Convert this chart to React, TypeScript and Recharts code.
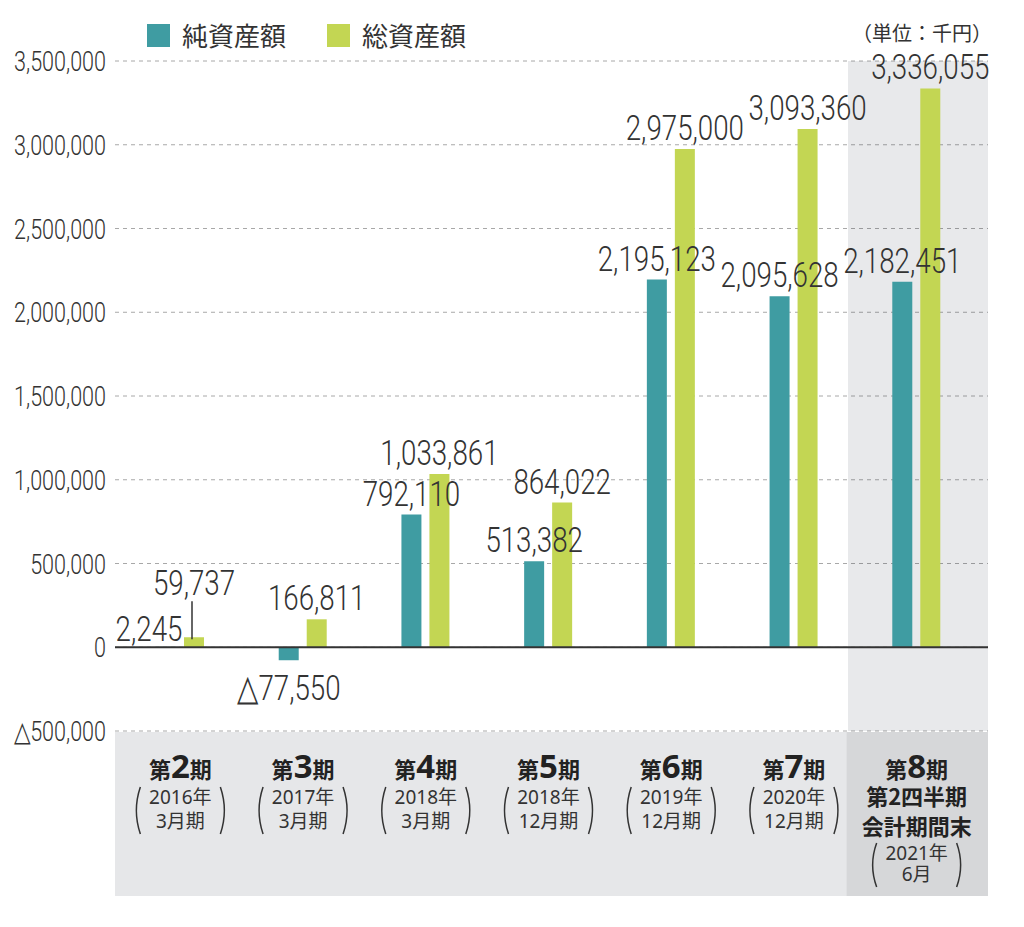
import React from 'react'
import { BarChart, Bar, XAxis, YAxis, CartesianGrid, ReferenceLine, ReferenceArea, LabelList } from 'recharts'

// 期ごとの純資産額・総資産額（単位：千円）
const categories = ['第2期', '第3期', '第4期', '第5期', '第6期', '第7期', '第8期']
const periodNumbers = ['2', '3', '4', '5', '6', '7', '8']
const yearLabels = ['2016年', '2017年', '2018年', '2018年', '2019年', '2020年', '2021年']
const monthLabels = ['3月期', '3月期', '3月期', '12月期', '12月期', '12月期', '6月']
const lastExtraLines = ['第2四半期', '会計期間末']
const netAssets = [2245, -77550, 792110, 513382, 2195123, 2095628, 2182451]
const totalAssets = [59737, 166811, 1033861, 864022, 2975000, 3093360, 3336055]
const yTicks = [-500000, 0, 500000, 1000000, 1500000, 2000000, 2500000, 3000000, 3500000]

const TEAL = '#3f9ca2'
const GREEN = '#c3d653'
const TEXT = '#333'
const NUM_FONT = 'Roboto, sans-serif'
const JP_FONT = '"Noto Sans CJK JP", sans-serif'
const SUB_FONT = '"Noto Sans", "Noto Sans CJK JP", sans-serif'

const W = 1000
const H = 912
const PLOT_LEFT = 107
const PLOT_RIGHT = 980
const STRIP_H = 164

const data = categories.map((c, i) => ({ name: c, net: netAssets[i], total: totalAssets[i] }))

const fmt = (v: number) => (v < 0 ? '△' : '') + Math.abs(v).toLocaleString('en-US')

const NumText = (props: any) => {
  const { x, y, text, size, sx, anchor } = props
  return <text
    transform={`translate(${x},${y}) scale(${sx},1)`}
    textAnchor={anchor || 'middle'}
    fontFamily={NUM_FONT}
    fontWeight={300}
    fontSize={size}
    fill={TEXT}
  >{text}</text>
}

const barLabel = (series: string) => (p: any) => {
  const { x, y, width, height, value, index } = p
  const top = Math.min(y, y + height)
  const bottom = Math.max(y, y + height)
  const cx = x + width / 2
  if (value < 0) {
    return <NumText x={cx} y={bottom + 40} text={fmt(value)} size={36} sx={0.77} />
  }
  if (index === 0 && series === 'net') {
    return <NumText x={cx - 17} y={top - 6} text={fmt(value)} size={36} sx={0.77} />
  }
  if (index === 0 && series === 'total') {
    return <g>
      <line x1={cx - 2} x2={cx - 2} y1={top - 36} y2={top + 2} stroke={TEXT} strokeWidth={1.5} />
      <NumText x={cx} y={top - 42} text={fmt(value)} size={36} sx={0.77} />
    </g>
  }
  return <NumText x={cx} y={top - 9} text={fmt(value)} size={36} sx={0.77} />
}

const YTick = (p: any) => {
  const { x, y, payload } = p
  return <NumText x={x} y={y + 10} text={fmt(payload.value)} size={28} sx={0.77} anchor="end" />
}

const Paren = (p: any) => {
  const { cx, top, bottom, half } = p
  const mid = (top + bottom) / 2
  return <g fill="none" stroke={TEXT} strokeWidth={1.5}>
    <path d={`M ${cx - half + 5} ${top} Q ${cx - half - 3} ${mid} ${cx - half + 5} ${bottom}`} />
    <path d={`M ${cx + half - 5} ${top} Q ${cx + half + 3} ${mid} ${cx + half - 5} ${bottom}`} />
  </g>
}

const CategoryTick = (p: any) => {
  const { x, y, payload } = p
  const i = categories.indexOf(payload.value)
  const last = i === categories.length - 1
  const sub = last ? 129 : 73
  const gap = last ? 21 : 24
  return <g>
    {i === 0 && <rect x={PLOT_LEFT} y={y + 1} width={PLOT_RIGHT - PLOT_LEFT} height={STRIP_H} fill="#e6e7e9" />}
    {last && <rect x={x - 70} y={y + 1} width={PLOT_RIGHT - (x - 70)} height={STRIP_H} fill="#d6d7d9" />}
    <text x={x} y={y + 47} textAnchor="middle" fill="#222" fontWeight={700}>
      <tspan fontFamily={JP_FONT} fontSize={22}>第</tspan>
      <tspan fontFamily='"Noto Sans", sans-serif' fontSize={33}>{periodNumbers[i]}</tspan>
      <tspan fontFamily={JP_FONT} fontSize={22}>期</tspan>
    </text>
    {last && lastExtraLines.map((t, k) =>
      <text key={t} x={x} y={y + 74 + k * 30} textAnchor="middle" fill="#222" fontWeight={700} fontFamily={JP_FONT} fontSize={22}>{t}</text>
    )}
    <text x={x} y={y + sub} textAnchor="middle" fill={TEXT} fontFamily={SUB_FONT} fontSize={19}>{yearLabels[i]}</text>
    <text x={x} y={y + sub + gap} textAnchor="middle" fill={TEXT} fontFamily={SUB_FONT} fontSize={19}>{monthLabels[i]}</text>
    <Paren cx={x} top={y + sub - 17} bottom={y + sub + gap + 6} half={45} />
  </g>
}

const LegendItem = (props: any) => {
  const { left, color, label } = props
  return <>
    <div style={{ position: 'absolute', left, top: 16, width: 23, height: 23, background: color }} />
    <div style={{ position: 'absolute', left: left + 35, top: 14, fontFamily: JP_FONT, fontSize: 26, lineHeight: '26px', color: TEXT }}>{label}</div>
  </>
}

const App = () => {
  return <div style={{ position: 'relative', width: W, height: H }}>
    <BarChart
      width={W}
      height={H}
      data={data}
      margin={{ top: 53, right: W - PLOT_RIGHT, left: 0, bottom: 25 }}
      barSize={20}
      barGap={8}
    >
      <CartesianGrid vertical={false} strokeDasharray="4 4" stroke="#a8a8a8" />
      <ReferenceArea
        x1="第8期"
        x2="第8期"
        y1={-500000}
        y2={3500000}
        shape={(s: any) => <rect x={s.x - 7.3} y={s.y} width={s.width + 17.3} height={s.height} fill="#1a2638" fillOpacity={0.1} />}
      />
      <XAxis
        dataKey="name"
        axisLine={false}
        tickLine={false}
        tickSize={0}
        tickMargin={0}
        height={STRIP_H}
        interval={0}
        padding={{ left: 4, right: 10 }}
        tick={<CategoryTick />}
      />
      <YAxis
        domain={[-500000, 3500000]}
        ticks={yTicks}
        width={PLOT_LEFT}
        axisLine={false}
        tickLine={false}
        tickSize={0}
        tickMargin={9}
        tick={<YTick />}
      />
      <ReferenceLine y={0} stroke="#333" strokeWidth={2} />
      <Bar dataKey="net" fill={TEAL} isAnimationActive={false}>
        <LabelList dataKey="net" content={barLabel('net')} />
      </Bar>
      <Bar dataKey="total" fill={GREEN} isAnimationActive={false}>
        <LabelList dataKey="total" content={barLabel('total')} />
      </Bar>
    </BarChart>
    <LegendItem left={139} color={TEAL} label="純資産額" />
    <LegendItem left={319} color={GREEN} label="総資産額" />
    <div style={{ position: 'absolute', right: W - 984, top: 14, fontFamily: JP_FONT, fontSize: 20, lineHeight: '22px', color: TEXT, whiteSpace: 'nowrap' }}>（単位：千円）</div>
  </div>
}

export default App
